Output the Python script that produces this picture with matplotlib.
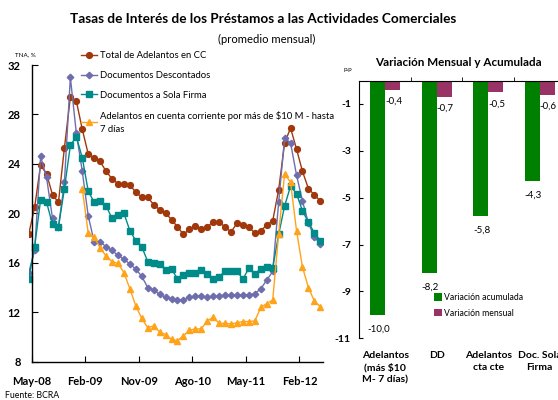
import numpy as np
import matplotlib
matplotlib.use("Agg")
import matplotlib.pyplot as plt

plt.rcParams['font.family'] = ['Lato', 'DejaVu Sans']

# ---------------- data ----------------
# monthly series, Apr-08 .. May-12 (first point sits just left of the axis)
total_adelantos_cc = [18.3, 20.5, 23.9, 23.2, 21.5, 20.9, 25.3, 29.4, 29.1, 26.8,
                      24.8, 24.5, 24.2, 23.4, 22.8, 22.4, 22.4, 22.3, 21.7, 21.3,
                      21.3, 20.7, 20.3, 20.0, 19.5, 18.9, 18.3, 18.7, 19.0, 18.7,
                      18.9, 19.3, 19.3, 18.9, 18.5, 19.2, 19.05, 18.9, 18.4, 18.6,
                      19.05, 19.4, 21.9, 25.7, 26.9, 25.2, 23.4, 22.0, 21.5, 21.0]
documentos_descontados = [15.2, 17.0, 24.6, 22.9, 19.6, 18.9, 22.5, 31.0, 26.5, 23.4,
                          19.8, 17.7, 17.7, 17.3, 17.0, 16.6, 16.3, 15.9, 15.5, 14.9,
                          14.0, 13.8, 13.45, 13.2, 13.1, 13.0, 13.0, 13.2, 13.3, 13.3,
                          13.2, 13.3, 13.3, 13.4, 13.4, 13.4, 13.4, 13.4, 13.5, 13.9,
                          14.6, 15.3, 20.9, 26.1, 25.7, 23.1, 21.0, 19.2, 18.1, 17.5]
documentos_sola_firma = [14.7, 17.3, 21.1, 20.9, 19.1, 18.9, 22.0, 25.5, 26.2, 24.5,
                         21.8, 20.9, 21.0, 20.6, 19.6, 19.9, 20.0, 18.6, 17.8, 17.3,
                         16.1, 16.0, 15.9, 15.4, 15.5, 14.7, 15.0, 15.2, 15.2, 15.4,
                         15.1, 14.7, 14.85, 15.35, 15.3, 15.3, 14.7, 15.55, 15.1, 15.5,
                         15.65, 15.6, 18.3, 20.6, 22.2, 21.6, 20.2, 19.3, 18.4, 17.8]
nan = np.nan
adelantos_10m_7d = [nan, nan, nan, nan, nan, nan, nan, nan, nan, 22.0,
                    18.4, 18.1, 17.2, 16.55, 16.1, 15.95, 15.2, 13.9, 12.5, 11.5,
                    10.75, 10.9, 10.4, 10.2, 9.8, 9.7, 10.1, 10.55, 10.65, 10.65,
                    11.3, 11.6, 11.1, 11.1, 11.05, 11.15, 11.25, 11.25, 11.3, 12.4,
                    12.7, 13.0, 18.35, 23.2, 22.5, 18.6, 15.65, 14.0, 12.9, 12.45]
series_labels = ["Total de Adelantos en CC", "Documentos Descontados",
                 "Documentos a Sola Firma",
                 "Adelantos en cuenta corriente por más de $10 M - hasta\n7 días"]
x_tick_labels = ["May-08", "Feb-09", "Nov-09", "Ago-10", "May-11", "Feb-12"]

bar_categories = ["Adelantos\n(más $10\nM- 7 días)", "DD", "Adelantos\ncta cte",
                  "Doc. Sola\nFirma"]
var_acumulada = [-10.0, -8.2, -5.8, -4.3]
var_mensual = [-0.4, -0.7, -0.5, -0.6]

# ---------------- figure ----------------
W, H = 558, 400
fig = plt.figure(figsize=(W / 100, H / 100), dpi=100)

def fx(px):
    return px / W

def fy(py):
    return 1 - py / H

# ---- left chart ----
ax = fig.add_axes([fx(28.7), fy(361.7), fx(323.3 - 28.7), (361.7 - 65) / H])
n = len(total_adelantos_cc)
x = np.arange(n) - 1  # index 0 = May-08

c_brown = "#A0380C"
c_purple = "#6E6EAE"
c_teal = "#008B8B"
c_orange = "#FFA31A"

ax.plot(x, total_adelantos_cc, color=c_brown, marker="o", ms=4.2, lw=1.0,
        label=series_labels[0])
ax.plot(x, documentos_descontados, color=c_purple, marker="D", ms=3.3, lw=1.0,
        label=series_labels[1])
ax.plot(x, documentos_sola_firma, color=c_teal, marker="s", ms=4.0, lw=1.0,
        label=series_labels[2])
ax.plot(x, adelantos_10m_7d, color=c_orange, marker="^", ms=4.0, lw=1.0,
        label=series_labels[3])

ax.set_xlim(-1, 48.5)
ax.set_ylim(8, 32)
ax.spines['left'].set_position(('data', -0.5))
ax.spines['bottom'].set_bounds(-0.5, 48.5)
ax.spines['top'].set_visible(False)
ax.spines['right'].set_visible(False)
for s in ('left', 'bottom'):
    ax.spines[s].set_linewidth(1.0)
ax.set_xticks(np.arange(-0.5, 48, 9))
ax.set_xticklabels(x_tick_labels, fontsize=8, fontweight='bold')
ax.set_yticks(np.arange(8, 33, 4))
ax.set_yticklabels([str(v) for v in range(8, 33, 4)], fontsize=8, fontweight='bold')
ax.tick_params(axis='x', direction='in', length=4, pad=10)
ax.tick_params(axis='y', direction='in', length=4, pad=8)

leg = fig.legend(loc='upper left', bbox_to_anchor=(fx(81), fy(51)), frameon=False,
                 fontsize=6.8, handlelength=1.7, handletextpad=0.35,
                 labelspacing=1.15, borderpad=0, borderaxespad=0)
leg.get_texts()[3].set_linespacing(1.6)

fig.text(fx(25), fy(55), "TNA, %", fontsize=4.5, ha='center', va='center')
fig.text(fx(263), fy(19), "Tasas de Interés de los Préstamos a las Actividades Comerciales",
         fontsize=9.8, fontweight='bold', ha='center', va='center')
fig.text(fx(267), fy(39), "(promedio mensual)", fontsize=8.1, ha='center', va='center')
fig.text(fx(5), fy(395), "Fuente: BCRA", fontsize=6.3, ha='left', va='center')

# ---- right chart ----
ax2 = fig.add_axes([fx(359.3), fy(338.3), fx(565.4 - 359.3), (338.3 - 80.5) / H])
xc = np.arange(len(bar_categories))
bw = 0.29
c_green = "#008000"
c_magenta = "#993366"
ax2.bar(xc - bw / 2, var_acumulada, width=bw, color=c_green, label="Variación acumulada")
ax2.bar(xc + bw / 2, var_mensual, width=bw, color=c_magenta, label="Variación mensual")
for xi, v in zip(xc, var_acumulada):
    ax2.text(xi - bw / 2 + 0.02, v - 0.6, f"{v:.1f}".replace('.', ','), fontsize=7,
             ha='center', va='center')
for xi, v in zip(xc, var_mensual):
    ax2.text(xi + bw / 2 + 0.02, v - 0.5, f"{v:.1f}".replace('.', ','), fontsize=7,
             ha='center', va='center')

ax2.set_xlim(-0.5, 3.5)
ax2.set_ylim(-11, 0)
ax2.spines['right'].set_visible(False)
ax2.spines['bottom'].set_visible(False)
ax2.spines['left'].set_bounds(-11, 0)
ax2.set_yticks([-1, -3, -5, -7, -9, -11])
ax2.set_yticklabels(["-1", "-3", "-5", "-7", "-9", "-11"], fontsize=7.5,
                    fontweight='bold')
ax2.tick_params(axis='y', direction='in', length=3, pad=6)
ax2.set_xticks(xc)
ax2.set_xticklabels(bar_categories, fontsize=7.5, fontweight='bold', linespacing=1.45,
                    va='top')
ax2.tick_params(axis='x', which='major', length=0, pad=9, bottom=True, top=False)
ax2.set_xticks(np.arange(0.5, 3.5, 1), minor=True)
ax2.tick_params(axis='x', which='minor', top=True, bottom=False, direction='out',
                length=3, labelbottom=False)
ax2.legend(loc='upper left', bbox_to_anchor=(fx(434), fy(293)),
           bbox_transform=fig.transFigure, frameon=False, fontsize=6.2,
           handlelength=0.9, handleheight=0.9, handletextpad=0.3,
           labelspacing=0.8, borderpad=0, borderaxespad=0)
fig.text(fx(458), fy(63), "Variación Mensual y Acumulada", fontsize=8.4,
         fontweight='bold', ha='center', va='center')
fig.text(fx(348), fy(69), "p.p", fontsize=4.5, ha='center', va='center')

fig.savefig("out.png", dpi=100)
